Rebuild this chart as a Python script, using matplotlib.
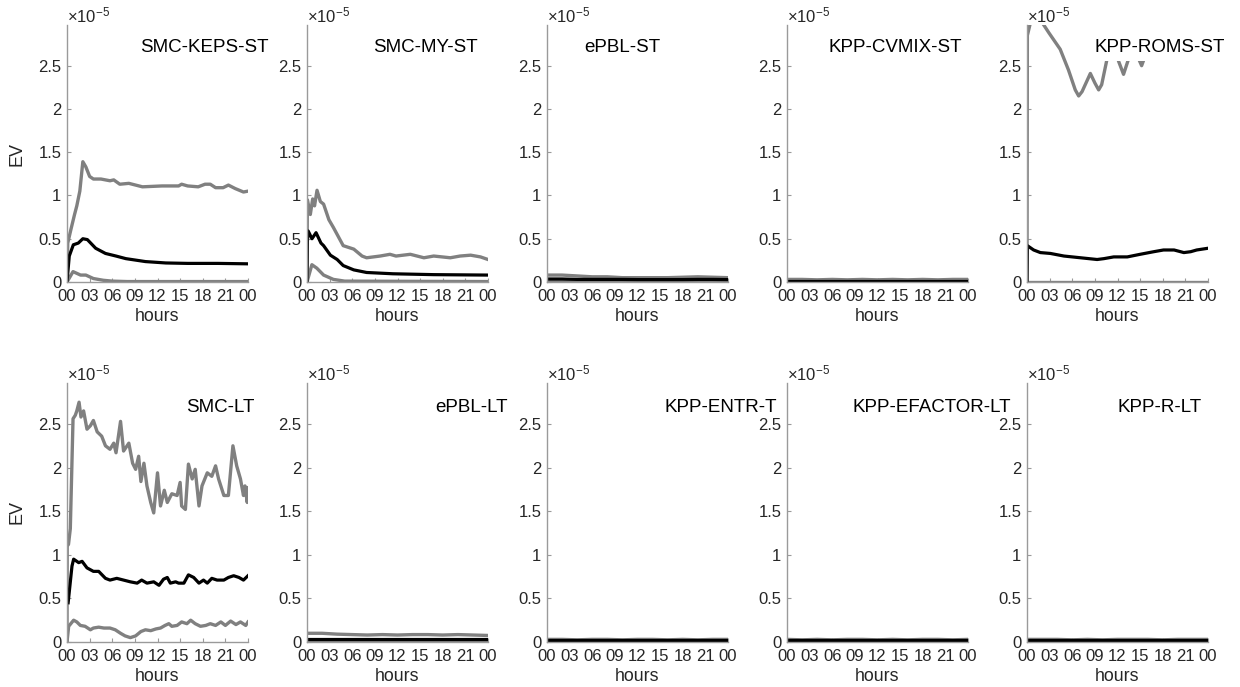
import matplotlib
matplotlib.use("Agg")
import matplotlib.pyplot as plt

plt.rcParams['font.family'] = ['Liberation Sans', 'DejaVu Sans']
plt.rcParams['mathtext.fontset'] = 'custom'
plt.rcParams['mathtext.rm'] = 'Liberation Sans'
plt.rcParams['mathtext.it'] = 'Liberation Sans:italic'

# ---------------- data (EV in units of 1e-5, time in hours) ----------------
t_flat = [0, 2, 4, 6, 8, 10, 12, 14, 16, 18, 20, 22, 24]

# SMC-KEPS-ST
keps_hi_t = [0, 0.1, 0.5, 1.0, 1.3, 1.7, 2.1, 2.5, 3.0, 3.5, 4.5, 5.7, 6.2, 7.0, 8.2, 10.0, 12.6, 14.8,
             15.2, 16.0, 17.4, 18.3, 19.0, 19.7, 20.7, 21.4, 22.3, 23.4, 24.0]
keps_hi = [0.0, 0.45, 0.6, 0.78, 0.88, 1.05, 1.39, 1.33, 1.22, 1.19, 1.19, 1.17, 1.18, 1.13, 1.14, 1.10,
           1.11, 1.11, 1.13, 1.11, 1.10, 1.13, 1.13, 1.09, 1.09, 1.12, 1.08, 1.04, 1.05]
keps_mean_t = [0, 0.3, 0.84, 1.5, 2.1, 2.7, 3.8, 5.1, 6.5, 7.8, 10.4, 13.1, 16, 20, 24]
keps_mean = [0.0, 0.3, 0.43, 0.45, 0.50, 0.49, 0.39, 0.33, 0.30, 0.27, 0.236, 0.22, 0.215, 0.215, 0.21]
keps_lo_t = [0, 0.8, 1.8, 2.5, 3.5, 4.8, 6, 8, 24]
keps_lo = [0.0, 0.12, 0.08, 0.08, 0.04, 0.02, 0.01, 0.005, 0.005]

# SMC-MY-ST
my_hi_t = [0, 0.05, 0.44, 0.75, 1.0, 1.33, 1.77, 2.2, 2.9, 3.5, 4.8, 6.2, 7.3, 7.9, 9.7, 11.0, 11.8,
           13.7, 15.5, 16.8, 19.0, 20.3, 21.7, 23.0, 24.0]
my_hi = [0.0, 0.95, 0.78, 0.96, 0.88, 1.06, 0.93, 0.90, 0.72, 0.63, 0.42, 0.38, 0.30, 0.28, 0.30, 0.32,
         0.30, 0.32, 0.28, 0.30, 0.28, 0.30, 0.31, 0.29, 0.26]
my_mean_t = [0, 0.05, 0.15, 0.66, 1.2, 1.85, 2.2, 3.1, 4.0, 4.8, 6.2, 7.9, 11.4, 16.8, 24]
my_mean = [0.0, 0.47, 0.59, 0.50, 0.57, 0.45, 0.42, 0.31, 0.26, 0.19, 0.14, 0.11, 0.095, 0.085, 0.08]
my_lo_t = [0, 0.65, 1.3, 2.2, 3.5, 5, 24]
my_lo = [0.0, 0.2, 0.16, 0.08, 0.03, 0.01, 0.005]

# ePBL-ST
epblst_hi = [0.08, 0.08, 0.07, 0.06, 0.06, 0.05, 0.05, 0.05, 0.05, 0.055, 0.06, 0.055, 0.05]
epblst_mean = [0.035, 0.035, 0.03, 0.03, 0.03, 0.03, 0.028, 0.028, 0.028, 0.028, 0.03, 0.03, 0.028]
epblst_lo = [0.01, 0.01, 0.01, 0.01, 0.01, 0.01, 0.01, 0.01, 0.01, 0.01, 0.01, 0.01, 0.01]

# KPP-CVMIX-ST
cvmix_hi = [0.03, 0.03, 0.025, 0.03, 0.025, 0.03, 0.025, 0.03, 0.025, 0.03, 0.025, 0.03, 0.03]
cvmix_mean = [0.015, 0.015, 0.015, 0.015, 0.015, 0.015, 0.015, 0.015, 0.015, 0.015, 0.015, 0.015, 0.015]
cvmix_lo = [0.005, 0.005, 0.005, 0.005, 0.005, 0.005, 0.005, 0.005, 0.005, 0.005, 0.005, 0.005, 0.005]

# KPP-ROMS-ST
roms_hi_t = [0, 0.05, 0.6, 1.0, 1.5, 2.0, 2.9, 4.4, 5.5, 6.4, 6.85, 7.3, 8.4, 9.0, 9.5, 9.9, 10.5, 11.0,
             11.6, 12.15, 12.8, 13.4, 14.0, 14.7, 15.2, 15.7, 17.0, 19.0, 21.0, 23.0, 24.0]
roms_hi = [0.0, 2.85, 3.05, 3.2, 3.15, 3.0, 2.88, 2.69, 2.45, 2.22, 2.15, 2.2, 2.41, 2.3, 2.22, 2.28,
           2.53, 2.75, 2.7, 2.55, 2.40, 2.56, 2.7, 2.6, 2.50, 2.62, 2.8, 2.75, 2.85, 2.8, 2.85]
roms_mean_t = [0, 0.05, 0.88, 1.77, 3.1, 4.9, 7.1, 9.3, 10.2, 11.5, 13.3, 15.0, 16.8, 18.1, 19.5, 20.8,
               21.7, 22.5, 24]
roms_mean = [0.0, 0.42, 0.37, 0.34, 0.33, 0.30, 0.28, 0.26, 0.27, 0.29, 0.29, 0.32, 0.35, 0.37, 0.37,
             0.34, 0.35, 0.37, 0.39]
roms_lo = [0.003, 0.003, 0.003, 0.003, 0.003, 0.003, 0.003, 0.003, 0.003, 0.003, 0.003, 0.003, 0.003]

# SMC-LT
smclt_hi_t = [0, 0.03, 0.2, 0.44, 0.8, 1.1, 1.3, 1.6, 1.85, 2.2, 2.65, 3.1, 3.5, 4.0, 4.6, 5.1, 5.7, 6.2,
              6.5, 7.1, 7.5, 8.2, 8.7, 9.1, 9.5, 9.8, 10.2, 10.6, 11.1, 11.5, 12.0, 12.4, 12.9, 13.3,
              13.9, 14.6, 15.0, 15.2, 15.7, 16.1, 16.6, 17.0, 17.5, 17.9, 18.6, 19.2, 19.7, 20.1, 20.8,
              21.4, 22.0, 22.5, 23.0, 23.4, 23.6, 23.9, 24.0]
smclt_hi = [0.0, 1.1, 1.12, 1.3, 2.56, 2.6, 2.65, 2.75, 2.58, 2.65, 2.44, 2.48, 2.54, 2.41, 2.36, 2.25,
            2.21, 2.28, 2.17, 2.53, 2.19, 2.28, 2.05, 1.98, 2.13, 1.84, 2.05, 1.79, 1.6, 1.48, 1.94, 1.56,
            1.74, 1.6, 1.7, 1.68, 1.83, 1.56, 1.52, 2.04, 1.87, 1.98, 1.56, 1.79, 1.94, 1.9, 2.02, 1.87,
            1.68, 1.68, 2.25, 2.02, 1.87, 1.68, 1.79, 1.6, 1.77]
smclt_mean_t = [0.15, 0.66, 0.88, 1.55, 2.0, 2.65, 3.5, 4.2, 5.1, 5.7, 6.6, 7.5, 8.4, 9.3, 9.9, 10.6,
                11.5, 12.2, 12.8, 13.3, 13.7, 14.4, 14.8, 15.5, 16.1, 16.8, 17.5, 18.1, 18.6, 19.2, 19.9,
                20.8, 21.4, 22.1, 22.8, 23.4, 24.0]
smclt_mean = [0.45, 0.87, 0.95, 0.91, 0.925, 0.85, 0.81, 0.81, 0.73, 0.71, 0.73, 0.71, 0.69, 0.675, 0.71,
              0.675, 0.69, 0.65, 0.72, 0.74, 0.675, 0.69, 0.675, 0.675, 0.77, 0.74, 0.675, 0.71, 0.675,
              0.73, 0.71, 0.71, 0.74, 0.76, 0.74, 0.71, 0.76]
smclt_lo_t = [0, 0.22, 0.88, 1.3, 1.77, 2.4, 3.1, 3.5, 4.2, 4.9, 5.7, 6.4, 7.1, 7.7, 8.4, 9.1, 9.8, 10.4,
              11.1, 11.8, 12.4, 13.0, 13.5, 13.9, 14.6, 15.2, 15.9, 16.4, 17.0, 17.7, 18.4, 19.0, 19.7,
              20.4, 21.0, 21.7, 22.4, 23.0, 23.7, 24.0]
smclt_lo = [0.0, 0.18, 0.25, 0.23, 0.19, 0.18, 0.14, 0.16, 0.17, 0.16, 0.16, 0.14, 0.10, 0.07, 0.05, 0.07,
            0.12, 0.14, 0.13, 0.15, 0.16, 0.19, 0.21, 0.18, 0.19, 0.23, 0.21, 0.25, 0.21, 0.18, 0.19,
            0.21, 0.19, 0.23, 0.19, 0.24, 0.20, 0.23, 0.19, 0.23]

# ePBL-LT
epbllt_hi = [0.10, 0.10, 0.09, 0.085, 0.08, 0.085, 0.08, 0.085, 0.085, 0.08, 0.085, 0.08, 0.075]
epbllt_mean = [0.04, 0.04, 0.04, 0.04, 0.04, 0.04, 0.04, 0.04, 0.04, 0.04, 0.04, 0.04, 0.04]
epbllt_lo = [0.015, 0.015, 0.015, 0.015, 0.015, 0.015, 0.015, 0.015, 0.015, 0.015, 0.015, 0.015, 0.015]

# KPP-ENTR-T
entr_hi = [0.03, 0.03, 0.025, 0.03, 0.03, 0.025, 0.03, 0.03, 0.025, 0.03, 0.025, 0.03, 0.03]
entr_mean = [0.02, 0.02, 0.02, 0.02, 0.02, 0.02, 0.02, 0.02, 0.02, 0.02, 0.02, 0.02, 0.02]
entr_lo = [0.01, 0.01, 0.01, 0.01, 0.01, 0.01, 0.01, 0.01, 0.01, 0.01, 0.01, 0.01, 0.01]

# KPP-EFACTOR-LT
efac_hi = [0.03, 0.025, 0.03, 0.025, 0.03, 0.03, 0.025, 0.03, 0.025, 0.03, 0.03, 0.025, 0.03]
efac_mean = [0.02, 0.02, 0.02, 0.02, 0.02, 0.02, 0.02, 0.02, 0.02, 0.02, 0.02, 0.02, 0.02]
efac_lo = [0.01, 0.01, 0.01, 0.01, 0.01, 0.01, 0.01, 0.01, 0.01, 0.01, 0.01, 0.01, 0.01]

# KPP-R-LT
rlt_hi = [0.03, 0.03, 0.03, 0.025, 0.03, 0.025, 0.03, 0.03, 0.03, 0.025, 0.03, 0.03, 0.03]
rlt_mean = [0.02, 0.02, 0.02, 0.02, 0.02, 0.02, 0.02, 0.02, 0.02, 0.02, 0.02, 0.02, 0.02]
rlt_lo = [0.01, 0.01, 0.01, 0.01, 0.01, 0.01, 0.01, 0.01, 0.01, 0.01, 0.01, 0.01, 0.01]

titles = ['SMC-KEPS-ST', 'SMC-MY-ST', 'ePBL-ST', 'KPP-CVMIX-ST', 'KPP-ROMS-ST',
          'SMC-LT', 'ePBL-LT', 'KPP-ENTR-T', 'KPP-EFACTOR-LT', 'KPP-R-LT']
xtick_vals = [0, 3, 6, 9, 12, 15, 18, 21, 24]
xtick_labels = ['00', '03', '06', '09', '12', '15', '18', '21', '00']
ytick_vals = [0, 0.5, 1, 1.5, 2, 2.5]
ytick_labels = ['0', '0.5', '1', '1.5', '2', '2.5']

panels = [
    ((keps_hi_t, keps_hi), (keps_lo_t, keps_lo), (keps_mean_t, keps_mean)),
    ((my_hi_t, my_hi), (my_lo_t, my_lo), (my_mean_t, my_mean)),
    ((t_flat, epblst_hi), (t_flat, epblst_lo), (t_flat, epblst_mean)),
    ((t_flat, cvmix_hi), (t_flat, cvmix_lo), (t_flat, cvmix_mean)),
    ((roms_hi_t, roms_hi), (t_flat, roms_lo), (roms_mean_t, roms_mean)),
    ((smclt_hi_t, smclt_hi), (smclt_lo_t, smclt_lo), (smclt_mean_t, smclt_mean)),
    ((t_flat, epbllt_hi), (t_flat, epbllt_lo), (t_flat, epbllt_mean)),
    ((t_flat, entr_hi), (t_flat, entr_lo), (t_flat, entr_mean)),
    ((t_flat, efac_hi), (t_flat, efac_lo), (t_flat, efac_mean)),
    ((t_flat, rlt_hi), (t_flat, rlt_lo), (t_flat, rlt_mean)),
]

# ---------------- layout ----------------
W, H = 1240, 687
fig = plt.figure(figsize=(W / 100, H / 100), dpi=100)
lefts_px = [67, 307, 547, 787, 1027]
width_px = 181
rows_px = [(25, 282), (383, 642)]  # (top, bottom)
title_cx = [204, 425, 622, 895, 1160, 220, 472, 721, 932, 1160]
title_cy = [47, 47, 47, 47, 47, 407, 407, 407, 407, 407]

GRAY = '#808080'
SPINE = '#9a9a9a'
TXT = '#262626'

for i, (hi, lo, mean) in enumerate(panels):
    r, c = divmod(i, 5)
    top, bot = rows_px[r]
    L = lefts_px[c]
    ax = fig.add_axes([L / W, 1 - bot / H, width_px / W, (bot - top) / H])
    ax.plot(hi[0], hi[1], color=GRAY, lw=2.4, solid_joinstyle='round')
    ax.plot(lo[0], lo[1], color=GRAY, lw=2.4, solid_joinstyle='round')
    ax.plot(mean[0], mean[1], color='black', lw=2.3, solid_joinstyle='round')
    ax.set_xlim(0, 24)
    ax.set_ylim(0, 2.97)
    ax.set_xticks(xtick_vals)
    ax.set_xticklabels(xtick_labels)
    ax.set_yticks(ytick_vals)
    ax.set_yticklabels(ytick_labels)
    for s in ['top', 'right']:
        ax.spines[s].set_visible(False)
    for s in ['left', 'bottom']:
        ax.spines[s].set_color(SPINE)
        ax.spines[s].set_linewidth(1.0)
    ax.tick_params(direction='in', length=3, width=0.8, color=SPINE, labelcolor=TXT,
                   labelsize=12, pad=5)
    ax.tick_params(axis='y', pad=4)
    ax.set_xlabel('hours', fontsize=12.8, color=TXT, labelpad=3)
    if c == 0:
        ax.set_ylabel('EV', fontsize=13, color=TXT, labelpad=9)
    ax.text(0.0, 1.0, r'$\times\mathregular{10^{-5}}$', transform=ax.transAxes,
            ha='left', va='bottom', fontsize=12, color=TXT)
    tx = (title_cx[i] - L) / width_px
    ty = (bot - title_cy[i]) / (bot - top)
    ax.text(tx, ty, titles[i], transform=ax.transAxes, ha='center', va='center',
            fontsize=13.5, color='black', zorder=5,
            bbox=dict(boxstyle='square,pad=0.3', facecolor='white', edgecolor='none'))

fig.savefig('out.png', dpi=100)
